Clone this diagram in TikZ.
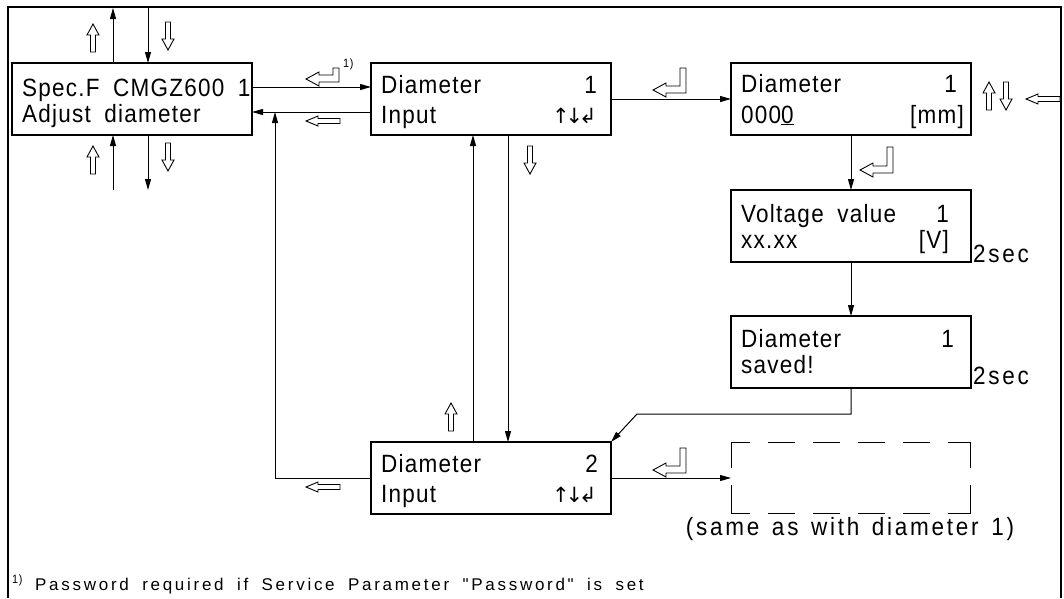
\documentclass[tikz,border=0pt]{standalone}
\usepackage{fontspec}
\setmainfont{Liberation Sans}
\newfontfamily\cad{Liberation Sans}[FakeStretch=0.9,LetterSpace=5,WordSpace=1.8]
\newfontfamily\cadg{Liberation Sans}[FakeStretch=0.9,LetterSpace=11,WordSpace=1.4]
\newfontfamily\cadw{Liberation Sans}[LetterSpace=16,WordSpace=1.8]
\newfontfamily\cadsym{DejaVu Sans}
\usetikzlibrary{arrows.meta}
\tikzset{
  hollow/.style={line width=0.9pt, fill=white, line join=miter},
  pics/hdown/.style={code={\draw[hollow] (-2.5,-14) -- (2.5,-14) -- (2.5,3) -- (6,3) -- (0,14) -- (-6,3) -- (-2.5,3) -- cycle;}},
  pics/hup/.style={code={\draw[hollow] (-2.5,14) -- (2.5,14) -- (2.5,-3) -- (6,-3) -- (0,-14) -- (-6,-3) -- (-2.5,-3) -- cycle;}},
  pics/hleft/.style={code={\draw[hollow] (17,-2.5) -- (17,2.5) -- (-5,2.5) -- (-5,5) -- (-17,0) -- (-5,-5) -- (-5,-2.5) -- cycle;}},
  pics/henter/.style={code={\draw[hollow] (0,#1-3) -- (13,#1-10) -- (13,#1-7) -- (27,#1-7) -- (27,0) -- (33,0) -- (33,#1) -- (13,#1) -- (13,#1+4) -- cycle;}},
}
\begin{document}
\begin{tikzpicture}[x=1pt,y=-1pt,
  box/.style={draw, line width=1.2pt, minimum width=240pt, minimum height=72pt, anchor=north west, inner sep=0pt, outer sep=0pt},
  txt/.style={font=\cad\fontsize{25}{27}\selectfont, inner sep=0pt, anchor=base west},
  txtr/.style={txt, anchor=base east},
  txtg/.style={font=\cadg\fontsize{25}{27}\selectfont, inner sep=0pt, anchor=base west},
  sym/.style={font=\cadsym\fontsize{21}{24}\selectfont, inner sep=0pt, anchor=base east},
  con/.style={line width=1pt},
  arr/.style={con, -{Triangle[length=11pt,width=6pt]}},
  frame/.style={line width=2.4pt}
]
\useasboundingbox (0,0) rectangle (1064,598);
\draw[frame] (8,598) -- (8,7) -- (1061,7) -- (1061,598);

% boxes
\node[box] (A) at (12,63) {};
\node[box] (B) at (371,63) {};
\node[box] (C) at (731,63) {};
\node[box] (D) at (731,190) {};
\node[box] (E) at (731,316) {};
\node[box] (F) at (371,442) {};
\node[box, draw=none, minimum width=239pt, minimum height=71pt] (G) at (731,442) {};

% dashed outline of G
\begin{scope}[line width=1pt]
\draw (731,468) -- (731,442) -- (750,442);
\draw (768,442) -- (795,442); \draw (813,442) -- (840,442); \draw (858,442) -- (885,442); \draw (903,442) -- (930,442);
\draw (948,442) -- (970,442) -- (970,468);
\draw (731,485) -- (731,513) -- (750,513);
\draw (768,513) -- (795,513); \draw (813,513) -- (840,513); \draw (858,513) -- (885,513); \draw (903,513) -- (930,513);
\draw (948,513) -- (970,513) -- (970,485);
\end{scope}

% texts
\node[txt] (A1) at (22,96) {Spec.F CMGZ600 1};
\node[txt] (A2) at (22,122) {Adjust diameter};
\node[txt] (B1) at (381,93) {Diameter};
\node[txtr] (B1n) at (597,93) {1};
\node[txt] (B2) at (381,123) {Input};
\node[sym] (B2s) at (597,123) {↑\kern-4pt↓\kern-4pt↲};
\node[txt] (C1) at (741,92) {Diameter};
\node[txtr] (C1n) at (957,92) {1};
\node[txt] (C2) at (741,123) {000\underline{0}};
\node[txtr] (C2u) at (964,123) {[mm]};
\node[txt] (D1) at (741,222) {Voltage value};
\node[txtr] (D1n) at (949,222) {1};
\node[txt] (D2) at (741,248) {xx.xx};
\node[txtr] (D2u) at (949,248) {[V]};
\node[txt] (E1) at (741,347) {Diameter};
\node[txtr] (E1n) at (954,347) {1};
\node[txt] (E2) at (741,373) {saved!};
\node[txt] (F1) at (381,472) {Diameter};
\node[txtr] (F1n) at (598,472) {2};
\node[txt] (F2) at (381,502) {Input};
\node[sym] (F2s) at (597,502) {↑\kern-4pt↓\kern-4pt↲};
\node[txtg] (s1) at (973,262) {2sec};
\node[txtg] (s2) at (973,384) {2sec};
\node[txtg, anchor=base] (Gl) at (850,535) {(same as with diameter 1)};
\node[font=\cad\fontsize{12}{14}\selectfont, inner sep=0pt, anchor=base west] (fn1) at (343,67) {1)};
\node[font=\cad\fontsize{12}{14}\selectfont, inner sep=0pt, anchor=base west] (fn2) at (12,583) {1)};
\node[font=\cadw\fontsize{17}{20}\selectfont, inner sep=0pt, anchor=base west] (fn) at (35,590) {Password required if Service Parameter "Password" is set};

% coordinates
\coordinate (yAB) at (0,87);
\coordinate (yBA) at (0,112);
\coordinate (yBC) at (0,99);
\coordinate (yF) at (0,478);
\coordinate (j) at (275,112);
\coordinate (e1) at (851,414);
\coordinate (e2) at (637,414);
\coordinate (xFB) at (473,0);
\coordinate (xBF) at (508,0);
\coordinate (t1) at (113,8);
\coordinate (t2) at (148,8);
\coordinate (b1) at (113,190);
\coordinate (b2) at (148,190);

% connectors
\draw[arr] (A.north -| t1) -- (t1);
\draw[arr] (t2) -- (A.north -| t2);
\draw[arr] (b1) -- (A.south -| b1);
\draw[arr] (A.south -| b2) -- (b2);
\draw[arr] (A.east |- yAB) -- (B.west |- yAB);
\draw[arr] (B.west |- yBA) -- (A.east |- yBA);
\draw[arr] (F.west |- yF) -| (j);
\draw[arr] (B.east |- yBC) -- (C.west |- yBC);
\draw[arr] (C.south) -- (D.north);
\draw[arr] (D.south) -- (E.north);
\draw[arr] (E.south) -- (e1) -- (e2) -- (F.north east);
\draw[arr] (F.north -| xFB) -- (B.south -| xFB);
\draw[arr] (B.south -| xBF) -- (F.north -| xBF);
\draw[arr] (F.east |- yF) -- (G.west |- yF);

% hollow key arrows
\pic at (93,38) {hup};
\pic at (168,36) {hdown};
\pic at (93,160) {hup};
\pic at (168,157) {hdown};
\pic at (306,68) {henter=14};
\pic at (323,121) {hleft};
\pic at (653,68) {henter=25};
\pic at (860,147) {henter=26};
\pic at (530,160) {hdown};
\pic at (451,417) {hup};
\pic at (323,487) {hleft};
\pic at (653,448) {henter=25};
\pic at (989,96) {hup};
\pic at (1006,96) {hdown};
\pic at (1043,99) {hleft};
\end{tikzpicture}
\end{document}
